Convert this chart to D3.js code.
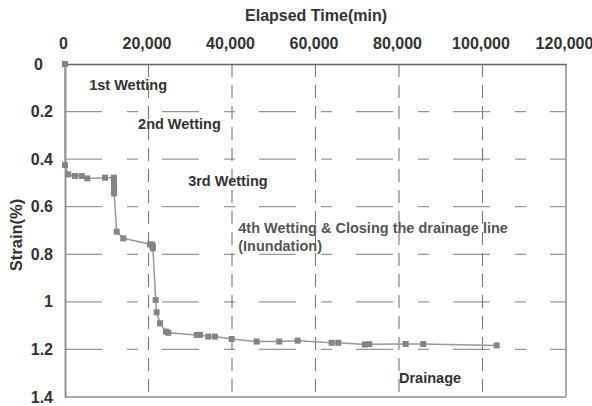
<!DOCTYPE html>
<html><head><meta charset="utf-8">
<script src="https://cdn.jsdelivr.net/npm/d3@7"></script>
<style>body{margin:0;background:#fff}svg text{font-family:"Liberation Sans",Arial,sans-serif;font-weight:bold}</style>
</head><body>
<script>
const timeMin = [0, 0, 790, 2400, 4000, 5340, 9580, 11700, 11720, 11730, 11740, 11750, 11760, 11770, 12380, 13960, 20360, 20900, 20950, 21000, 21050, 21720, 21950, 22750, 24190, 24740, 31540, 32330, 34320, 35925, 39920, 45910, 51320, 55730, 63870, 65460, 71800, 72900, 81600, 85810, 103390];
const strainPct = [0, 0.425, 0.464, 0.471, 0.471, 0.481, 0.478, 0.478, 0.49, 0.50, 0.51, 0.52, 0.53, 0.544, 0.705, 0.733, 0.758, 0.760, 0.765, 0.770, 0.775, 0.992, 1.044, 1.09, 1.125, 1.13, 1.139, 1.139, 1.146, 1.146, 1.156, 1.167, 1.167, 1.163, 1.172, 1.172, 1.179, 1.178, 1.177, 1.177, 1.183];
const xTicks = [0, 20000, 40000, 60000, 80000, 100000, 120000];
const yTicks = [0, 0.2, 0.4, 0.6, 0.8, 1, 1.2, 1.4];
const annotations = [
  {text: "1st Wetting", t: 5800, s: 0.09, c: "#333"},
  {text: "2nd Wetting", t: 17500, s: 0.25, c: "#333"},
  {text: "3rd Wetting", t: 29500, s: 0.49, c: "#333"},
  {text: "4th Wetting & Closing the drainage line", t: 41500, s: 0.69, c: "#555"},
  {text: "(Inundation)", t: 41500, s: 0.765, c: "#555"},
  {text: "Drainage", t: 80000, s: 1.32, c: "#333"}
];

const W = 592, H = 406;
const svg = d3.select("body").append("svg").attr("width", W).attr("height", H);
const x = d3.scaleLinear().domain([0, 120000]).range([65, 566]);
const y = d3.scaleLinear().domain([0, 1.4]).range([64, 397]);

// gridlines
svg.append("g").selectAll("line").data(yTicks.filter(v => v > 0 && v < 1.4)).join("line")
  .attr("x1", x(0)).attr("x2", x(120000)).attr("y1", d => y(d)).attr("y2", d => y(d))
  .attr("stroke", "#999").attr("stroke-width", 1.3).attr("stroke-dasharray", "37,25,11,24");
svg.append("g").selectAll("line").data(xTicks.filter(v => v > 0 && v < 120000)).join("line")
  .attr("x1", d => x(d)).attr("x2", d => x(d)).attr("y1", y(0)).attr("y2", y(1.4))
  .attr("stroke", "#777").attr("stroke-width", 1.1).attr("stroke-dasharray", "13,8");

// border
svg.append("line").attr("x1", x(120000)).attr("x2", x(120000)).attr("y1", y(0)).attr("y2", y(1.4)).attr("stroke", "#aaa").attr("stroke-width", 2);
svg.append("line").attr("x1", x(0)).attr("x2", x(120000)).attr("y1", y(1.4)).attr("y2", y(1.4)).attr("stroke", "#aaa").attr("stroke-width", 2);

// axes
const xAxis = d3.axisTop(x).tickValues(xTicks).tickSize(0).tickPadding(0).tickFormat(d3.format(","));
const gx = svg.append("g").attr("transform", `translate(0,${y(0)})`).call(xAxis);
gx.select(".domain").attr("stroke", "#666").attr("stroke-width", 1.6);
gx.selectAll("text").attr("y", -15).attr("dx", -2).attr("fill", "#333").style("font-size", "16px").style("font-family", "Liberation Sans, Arial, sans-serif").style("font-weight", "bold");

const yAxis = d3.axisLeft(y).tickValues(yTicks).tickSize(0).tickPadding(12).tickFormat(d => d3.format("")(+d.toFixed(1)));
const gy = svg.append("g").attr("transform", `translate(${x(0)},0)`).call(yAxis);
gy.select(".domain").attr("stroke", "#888").attr("stroke-width", 1.8);
gy.selectAll("text").attr("fill", "#333").style("font-size", "16px").style("font-family", "Liberation Sans, Arial, sans-serif").style("font-weight", "bold");
gy.selectAll(".tick").filter(d => d === 0).select("text").attr("dx", -10);

// titles
svg.append("text").attr("x", 316).attr("y", 21).attr("text-anchor", "middle").attr("fill", "#333").style("font-size", "16px").text("Elapsed Time(min)");
svg.append("text").attr("transform", "translate(22,235) rotate(-90)").attr("text-anchor", "middle").attr("fill", "#333").style("font-size", "16.5px").text("Strain(%)");

// data line and markers
const pts = timeMin.map((t, i) => [t, strainPct[i]]);
svg.append("path").datum(pts).attr("fill", "none").attr("stroke", "#999").attr("stroke-width", 1.5)
  .attr("d", d3.line().x(d => x(d[0])).y(d => y(d[1])));
svg.append("g").selectAll("rect").data(pts).join("rect")
  .attr("x", d => x(d[0]) - 3).attr("y", d => y(d[1]) - 3).attr("width", 6).attr("height", 6)
  .attr("fill", "#848484");

// annotations
svg.append("g").selectAll("text").data(annotations).join("text")
  .attr("x", d => x(d.t)).attr("y", d => y(d.s)).attr("dy", "0.35em")
  .attr("fill", d => d.c).style("font-size", "14.5px").text(d => d.text);
</script>
</body></html>
